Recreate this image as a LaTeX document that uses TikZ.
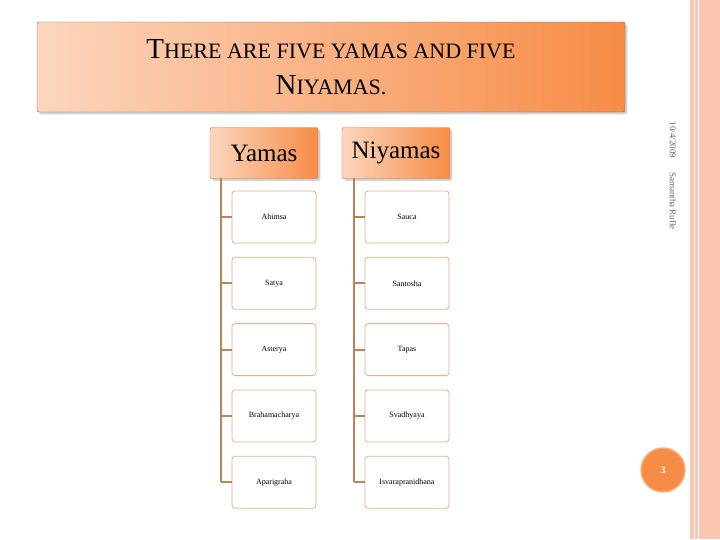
\documentclass[tikz,border=0pt]{standalone}
\usepackage{fontspec}
\setmainfont{Liberation Serif}
\usetikzlibrary{positioning,shadows}
\definecolor{peach}{RGB}{250,200,178}
\definecolor{orng}{RGB}{247,140,70}
\definecolor{lite}{RGB}{252,214,190}
\definecolor{rim}{RGB}{232,175,135}
\definecolor{stem}{RGB}{190,130,90}
\newcommand\fakesc[1]{{\fontsize{22}{36}\selectfont\MakeUppercase{#1}}}
\begin{document}
\begin{tikzpicture}[
    x=1pt, y=-1pt,
    banner/.style={draw=black!60, rounded corners=2pt, left color=lite, right color=orng, drop shadow={opacity=0.35}},
    head/.style={banner, draw=orng!80!black, minimum width=108pt, minimum height=51pt, font=\fontsize{25}{26}\selectfont},
    leaf/.style={draw=rim, line width=0.8pt, rounded corners=3pt, fill=white, minimum width=84pt, minimum height=52pt, font=\fontsize{8}{9}\selectfont},
    branch/.style={stem, line width=1.8pt}
]
\useasboundingbox (0,0) rectangle (720,539);

% side strip
\fill[peach] (690,0) rectangle (720,539);
\draw[white, line width=1pt] (694,0) -- (694,539);
\draw[white, line width=1pt] (698,0) -- (698,539);

% title
\node[banner, minimum width=588pt, minimum height=90pt, align=center,
      font=\fontsize{29}{36}\selectfont] (title) at (331,67)
  {T\fakesc{here are five yamas and five}\\ N\fakesc{iyamas.}};

% headers
\node[head] (yam) at (264,153) {Yamas};
\node[head] (niy) at (396,153) {Niyamas};
\coordinate (ystem) at (221,178);
\coordinate (nstem) at (354,178);

% children
\def\ylist{Ahimsa, Satya, Asterya, Brahamacharya, Aparigraha}
\def\nlist{Sauca, Santosha, Tapas, Svadhyaya, Isvarapranidhana}
\foreach \t [count=\i] in \ylist {
  \node[leaf] (y\i) at (274,{217+66.3*(\i-1)}) {\t};
  \draw[branch] (ystem |- y\i) -- (y\i.west);
}
\foreach \t [count=\i] in \nlist {
  \node[leaf] (n\i) at (407,{217+66.3*(\i-1)}) {\t};
  \draw[branch] (nstem |- n\i) -- (n\i.west);
}
\draw[branch] (ystem) -- (ystem |- y5);
\draw[branch] (nstem) -- (nstem |- n5);

% footer
\node[rotate=-90, anchor=west, text=black!60, font=\fontsize{9}{10}\selectfont] (foot) at (673,118)
  {10/4/2009\hspace{14pt}Samantha Rufle};
\node[circle, fill=orng, draw=orng!70!white, line width=1.5pt, minimum size=44pt, text=white,
      font=\fontsize{10}{10}\selectfont\bfseries] (pg) at (663,470) {3};
\end{tikzpicture}
\end{document}
